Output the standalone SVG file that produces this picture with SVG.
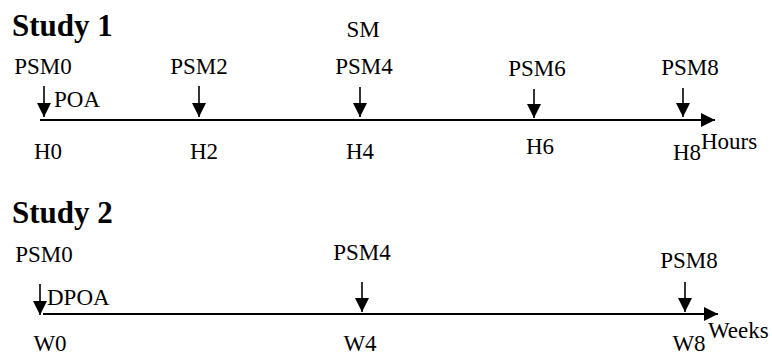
<svg xmlns="http://www.w3.org/2000/svg" width="772" height="357" viewBox="0 0 772 357">
  <defs>
    <style>
      .title { font-family: "Liberation Serif", "Times New Roman", serif; font-weight: bold; font-size: 31px; fill: #000; }
      .lbl { font-family: "Liberation Serif", "Times New Roman", serif; font-size: 23px; fill: #000; }
      .mid { text-anchor: middle; }
      .axis { stroke: #000; stroke-width: 2; fill: none; }
      .tick { stroke: #000; stroke-width: 1.6; fill: none; }
    </style>
    <marker id="head" viewBox="0 0 14 14" refX="14" refY="7" markerWidth="14" markerHeight="14" markerUnits="userSpaceOnUse" orient="auto">
      <path d="M0,0 L14,7 L0,14 Z" fill="#000"/>
    </marker>
  </defs>
  <rect width="772" height="357" fill="#fff"/>

  <!-- Study 1: hourly timeline -->
  <g id="study1">
    <text class="title" x="12" y="36">Study 1</text>
    <g id="s1-h0">
      <text class="lbl mid" x="43" y="74">PSM0</text>
      <text class="lbl" x="54" y="107">POA</text>
      <text class="lbl mid" x="48" y="159">H0</text>
    </g>
    <g id="s1-h2">
      <text class="lbl mid" x="199" y="74">PSM2</text>
      <text class="lbl mid" x="204" y="159">H2</text>
    </g>
    <g id="s1-h4">
      <text class="lbl mid" x="363" y="37">SM</text>
      <text class="lbl mid" x="364" y="74">PSM4</text>
      <text class="lbl mid" x="360" y="159">H4</text>
    </g>
    <g id="s1-h6">
      <text class="lbl mid" x="537" y="76">PSM6</text>
      <text class="lbl mid" x="540" y="154">H6</text>
    </g>
    <g id="s1-h8">
      <text class="lbl mid" x="690" y="75">PSM8</text>
      <text class="lbl mid" x="687" y="160">H8</text>
      <text class="lbl" x="701" y="149">Hours</text>
    </g>
  </g>

  <!-- Study 2: weekly timeline -->
  <g id="study2">
    <text class="title" x="12" y="223">Study 2</text>
    <g id="s2-w0">
      <text class="lbl mid" x="44" y="262">PSM0</text>
      <text class="lbl" x="47" y="305">DPOA</text>
      <text class="lbl mid" x="50" y="351">W0</text>
    </g>
    <g id="s2-w4">
      <text class="lbl mid" x="360" y="351">W4</text>
      <text class="lbl mid" x="362" y="260">PSM4</text>
    </g>
    <g id="s2-w8">
      <text class="lbl mid" x="689" y="268">PSM8</text>
      <text class="lbl mid" x="689" y="351">W8</text>
      <text class="lbl" x="708" y="338">Weeks</text>
    </g>
  </g>

  <!-- Axes and sampling arrows -->
  <g id="connectors">
    <line class="axis" x1="40" y1="120" x2="715" y2="120" marker-end="url(#head)"/>
    <line class="tick" x1="44" y1="86" x2="44" y2="117" marker-end="url(#head)"/>
    <line class="tick" x1="199" y1="86" x2="199" y2="117" marker-end="url(#head)"/>
    <line class="tick" x1="360" y1="87" x2="360" y2="117" marker-end="url(#head)"/>
    <line class="tick" x1="534" y1="89" x2="534" y2="118" marker-end="url(#head)"/>
    <line class="tick" x1="683" y1="88" x2="683" y2="117" marker-end="url(#head)"/>

    <line class="axis" x1="43" y1="314" x2="718" y2="314" marker-end="url(#head)"/>
    <line class="tick" x1="40" y1="284" x2="40" y2="315" marker-end="url(#head)"/>
    <line class="tick" x1="362" y1="282" x2="362" y2="312" marker-end="url(#head)"/>
    <line class="tick" x1="685" y1="282" x2="685" y2="312" marker-end="url(#head)"/>
  </g>
</svg>
